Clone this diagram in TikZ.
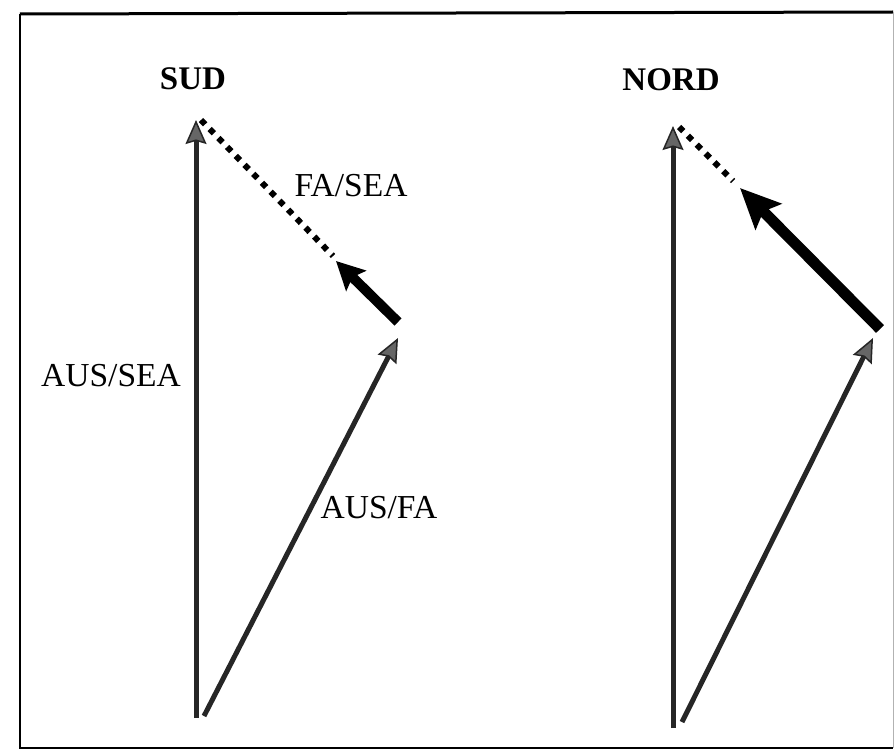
\documentclass[tikz,border=0pt]{standalone}
\usepackage{fontspec}
\setmainfont{Liberation Serif}
\usetikzlibrary{arrows.meta}
\begin{document}
\begin{tikzpicture}[x=1pt,y=-1pt,
  lbl/.style={font=\fontsize{33.5}{38}\selectfont, inner sep=0pt},
  ttl/.style={font=\fontsize{33}{38}\selectfont\bfseries, inner sep=0pt},
  thinvec/.style={line width=5pt, draw=black!85, -{Stealth[length=24pt,width=21pt,inset=3pt,fill=black!60,line width=1.5pt]}},
  thickvec/.style={line width=10pt, draw=black, -{Stealth[length=28pt,width=28pt,inset=5pt]}},
  bigvec/.style={line width=11pt, draw=black, -{Stealth[length=40pt,width=36pt,inset=7pt]}},
  dotvec/.style={line width=6pt, draw=black, dash pattern=on 6pt off 6.5pt}]
\useasboundingbox (0,0) rectangle (896,752);
\draw[line width=3pt] (20,14) -- (893,12);
\draw[line width=2.5pt] (20,14) -- (20,748) -- (893,748);
\draw[line width=0.8pt, black!30] (893,12) -- (893,748);
% SUD
\node[ttl] (sud) at (193,79) {SUD};
\coordinate (s0) at (196,718);
\coordinate (s1) at (196,120);
\coordinate (s2) at (204,716);
\coordinate (s3) at (398,338);
\coordinate (s4) at (398,322);
\coordinate (s5) at (336,261);
\coordinate (s6) at (201,120);
\draw[thinvec] (s0) -- (s1);
\draw[thinvec] (s2) -- (s3);
\draw[thickvec] (s4) -- (s5);
\draw[dotvec] (s6) -- (333,256);
\node[lbl] (fasea) at (351,186) {FA/SEA};
\node[lbl] (aussea) at (111,376) {AUS/SEA};
\node[lbl] (ausfa) at (379,508) {AUS/FA};
% NORD
\node[ttl] (nord) at (671,80) {NORD};
\coordinate (n0) at (673,728);
\coordinate (n1) at (673,126);
\coordinate (n2) at (682,722);
\coordinate (n3) at (873,338);
\coordinate (n4) at (880,329);
\coordinate (n5) at (740,188);
\coordinate (n6) at (679,127);
\draw[thinvec] (n0) -- (n1);
\draw[thinvec] (n2) -- (n3);
\draw[bigvec] (n4) -- (n5);
\draw[dotvec] (n6) -- (733,181);
\end{tikzpicture}
\end{document}
